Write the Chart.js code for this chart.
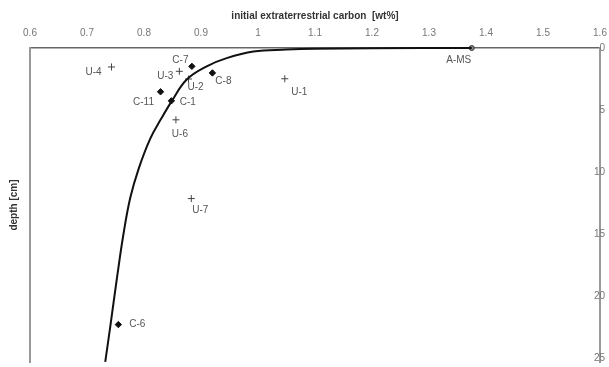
<!DOCTYPE html>
<html>
<head>
<meta charset="utf-8">
<script src="https://cdn.jsdelivr.net/npm/chart.js@4"></script>
<style>
  html, body { margin: 0; padding: 0; background: #fff; overflow: hidden; }
  #depthChart { display: block; }
</style>
</head>
<body>
<canvas id="depthChart" width="609" height="367"></canvas>
<script>
// Sample values
const cLabels = ['C-7', 'C-8', 'C-11', 'C-1', 'C-6'];
const cCarbon = [0.884, 0.920, 0.829, 0.848, 0.755];
const cDepth = [1.48, 2.01, 3.53, 4.26, 22.3];

const uLabels = ['U-4', 'U-3', 'U-2', 'U-1', 'U-6', 'U-7'];
const uCarbon = [0.743, 0.862, 0.878, 1.047, 0.856, 0.883];
const uDepth = [1.53, 1.88, 2.50, 2.48, 5.79, 12.14];

const amsLabels = ['A-MS'];
const amsCarbon = [1.375];
const amsDepth = [0];

// Fitted profile, points
const curveCarbon = [1.375, 1.20, 1.10, 1.05, 0.992, 0.945, 0.910, 0.875, 0.849, 0.830, 0.811, 0.791, 0.776, 0.764, 0.753, 0.741, 0.732];
const curveDepth = [0, 0.02, 0.06, 0.13, 0.29, 0.82, 1.48, 2.54, 4.26, 5.71, 7.3, 9.68, 12.06, 15.0, 18.4, 22.4, 25.3];

const xTicks = [0.6, 0.7, 0.8, 0.9, 1, 1.1, 1.2, 1.3, 1.4, 1.5, 1.6];
const yTicks = [0, 5, 10, 15, 20, 25];

const toPoints = (xs, ys) => xs.map((x, i) => ({ x: x, y: ys[i] }));

const FONT = '"Liberation Sans", Arial, sans-serif';

// draws the sample names beside each marker
const pointLabels = {
    id: 'pointLabels',
    afterDatasetsDraw(chart, args, opts) {
        const ctx = chart.ctx;
        ctx.save();
        ctx.font = '10px ' + FONT;
        ctx.fillStyle = '#555';
        ctx.textAlign = 'center';
        ctx.textBaseline = 'middle';
        chart.data.datasets.forEach((ds, di) => {
            if (!ds.names) return;
            chart.getDatasetMeta(di).data.forEach((pt, i) => {
                const name = ds.names[i];
                const off = opts.offsets[name] || [0, 0];
                ctx.fillText(name, pt.x + off[0], pt.y + off[1]);
            });
        });
        ctx.restore();
    }
};

// no extra room for the overhanging end labels
const noPad = s => { s.paddingLeft = 0; s.paddingRight = 0; s.paddingTop = 0; s.paddingBottom = 0; };

const yMax = 25 + 4 / 12.6; // axis runs a little past 25, cut by the page edge

new Chart(document.getElementById('depthChart'), {
    type: 'scatter',
    data: {
        datasets: [
            {
                label: 'profile',
                data: toPoints(curveCarbon, curveDepth),
                showLine: true,
                borderColor: '#111',
                borderWidth: 2,
                pointRadius: 0,
                tension: 0.4,
                clip: false
            },
            {
                label: 'C',
                names: cLabels,
                data: toPoints(cCarbon, cDepth),
                pointStyle: 'rectRot',
                pointRadius: 3.2,
                backgroundColor: '#111',
                borderColor: '#111',
                borderWidth: 1,
                clip: false
            },
            {
                label: 'U',
                names: uLabels,
                data: toPoints(uCarbon, uDepth),
                pointStyle: 'cross',
                pointRadius: 3.5,
                borderColor: '#444',
                borderWidth: 1,
                clip: false
            },
            {
                label: 'A-MS',
                names: amsLabels,
                data: toPoints(amsCarbon, amsDepth),
                pointStyle: 'circle',
                pointRadius: 2.5,
                backgroundColor: '#888',
                borderColor: '#333',
                borderWidth: 1,
                clip: false
            }
        ]
    },
    options: {
        responsive: false,
        animation: false,
        layout: { padding: 0 },
        plugins: {
            legend: { display: false },
            tooltip: { enabled: false },
            pointLabels: {
                offsets: {
                    'C-7': [-11.5, -6.5],
                    'C-8': [11, 8],
                    'C-11': [-17, 10],
                    'C-1': [16.5, 1.5],
                    'C-6': [19, 0],
                    'U-4': [-18, 5],
                    'U-3': [-14, 5],
                    'U-2': [7, 8],
                    'U-1': [14.5, 13],
                    'U-6': [4, 14],
                    'U-7': [9, 12],
                    'A-MS': [-13, 12.5]
                }
            }
        },
        scales: {
            x: {
                type: 'linear',
                position: 'top',
                min: 0.6,
                max: 1.6,
                afterBuildTicks: s => { s.ticks = xTicks.map(v => ({ value: v })); },
                afterFit: s => { s.height = 48; noPad(s); },
                grid: { display: false, drawTicks: false },
                border: { display: true, color: '#666', width: 1.5 },
                ticks: {
                    padding: 9,
                    color: '#777',
                    font: { family: FONT, size: 10 },
                    callback: v => String(+v.toFixed(1))
                },
                title: {
                    display: true,
                    text: 'initial extraterrestrial carbon  [wt%]',
                    color: '#333',
                    font: { family: FONT, size: 10, weight: 'bold' },
                    padding: { top: 10, bottom: 0 }
                }
            },
            y: {
                type: 'linear',
                position: 'right',
                reverse: true,
                min: 0,
                max: yMax,
                afterBuildTicks: s => { s.ticks = yTicks.map(v => ({ value: v })); },
                afterFit: s => { s.width = 9; noPad(s); },
                grid: { display: false, drawTicks: false },
                border: { display: true, color: '#999', width: 2 },
                ticks: {
                    mirror: true,
                    padding: 5,
                    color: '#777',
                    font: { family: FONT, size: 10 }
                }
            },
            yl: {
                type: 'linear',
                position: 'left',
                afterFit: s => { s.width = 30; noPad(s); },
                grid: { display: false, drawTicks: false },
                border: { display: true, color: '#999', width: 2 },
                ticks: { display: false },
                title: {
                    display: true,
                    text: 'depth [cm]',
                    color: '#333',
                    font: { family: FONT, size: 10, weight: 'bold' },
                    padding: { top: 8, bottom: 0 }
                }
            }
        }
    },
    plugins: [pointLabels]
});
</script>
</body>
</html>
